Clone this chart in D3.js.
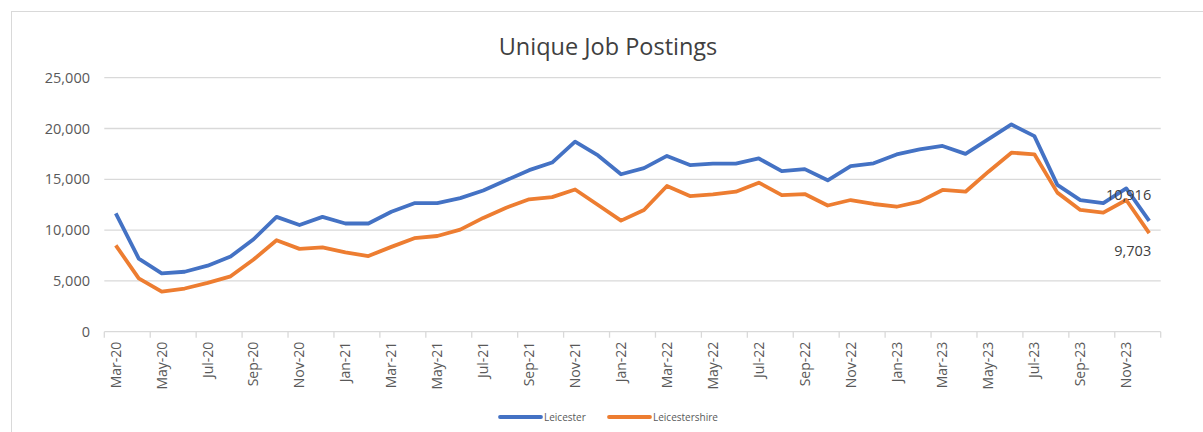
<!DOCTYPE html>
<html>
<head>
<meta charset="utf-8">
<script src="https://cdn.jsdelivr.net/npm/d3@7"></script>
<style>
  body { margin: 0; background: #fff; }
  text { font-family: "Open Sans", "Noto Sans", sans-serif; fill: #595959; }
</style>
</head>
<body>
<svg id="chart" width="1203" height="432"></svg>
<script>
// months, Mar-20 .. Dec-23
var months = ["Mar-20","Apr-20","May-20","Jun-20","Jul-20","Aug-20","Sep-20","Oct-20","Nov-20","Dec-20",
  "Jan-21","Feb-21","Mar-21","Apr-21","May-21","Jun-21","Jul-21","Aug-21","Sep-21","Oct-21","Nov-21","Dec-21",
  "Jan-22","Feb-22","Mar-22","Apr-22","May-22","Jun-22","Jul-22","Aug-22","Sep-22","Oct-22","Nov-22","Dec-22",
  "Jan-23","Feb-23","Mar-23","Apr-23","May-23","Jun-23","Jul-23","Aug-23","Sep-23","Oct-23","Nov-23","Dec-23"];

var leicester = [11650, 7200, 5750, 5900, 6500, 7400, 9100, 11300, 10500, 11300,
  10650, 10650, 11800, 12650, 12650, 13150, 13900, 14900, 15900, 16650, 18700, 17350,
  15500, 16100, 17300, 16400, 16550, 16550, 17050, 15800, 16000, 14900, 16300, 16570,
  17450, 17950, 18280, 17500, 18950, 20400, 19250, 14450, 12950, 12650, 14100, 10916];

var leicestershire = [8500, 5250, 3950, 4250, 4800, 5450, 7100, 9000, 8150, 8300,
  7800, 7450, 8350, 9200, 9420, 10050, 11200, 12200, 13030, 13250, 14000, 12470,
  10930, 11980, 14340, 13350, 13520, 13780, 14670, 13450, 13550, 12420, 12960, 12570,
  12300, 12800, 13950, 13780, 15750, 17620, 17460, 13690, 11980, 11720, 12960, 9703];

var yTicks = [0, 5000, 10000, 15000, 20000, 25000];

var series = [
  {name: "Leicester", values: leicester, color: "#4472C4"},
  {name: "Leicestershire", values: leicestershire, color: "#ED7D31"}
];

var svg = d3.select("#chart");
var plotLeft = 104.3, plotRight = 1160.7, plotTop = 77.7, plotBottom = 331.7;

// chart border
svg.append("rect")
  .attr("x", 11.5).attr("y", 11.5)
  .attr("width", 1250).attr("height", 460)
  .attr("fill", "none")
  .attr("stroke", "#d9d9d9");

svg.append("text")
  .attr("x", 608).attr("y", 55)
  .attr("text-anchor", "middle")
  .style("font-size", "23.5px")
  .style("fill", "#404040")
  .text("Unique Job Postings");

var x = d3.scaleBand().domain(months).range([plotLeft, plotRight]);
var y = d3.scaleLinear().domain([0, 25000]).range([plotBottom, plotTop]);

// gridlines
svg.append("g").selectAll("line")
  .data(yTicks.filter(function(d){ return d > 0; }))
  .enter().append("line")
  .attr("x1", plotLeft).attr("x2", plotRight)
  .attr("y1", function(d){ return y(d); })
  .attr("y2", function(d){ return y(d); })
  .attr("stroke", "#d9d9d9")
  .attr("stroke-width", 1.3);

// y labels
svg.append("g").selectAll("text")
  .data(yTicks)
  .enter().append("text")
  .attr("x", 90)
  .attr("y", function(d){ return y(d); })
  .attr("dy", "0.35em")
  .attr("text-anchor", "end")
  .style("font-size", "14.5px")
  .text(d3.format(","));

// x axis line + tick marks between every 2 categories
svg.append("line")
  .attr("x1", plotLeft).attr("x2", plotRight)
  .attr("y1", plotBottom).attr("y2", plotBottom)
  .attr("stroke", "#d9d9d9")
  .attr("stroke-width", 1.3);

var tickPos = months.filter(function(d, i){ return i % 2 == 0; })
  .map(function(d){ return x(d); }).concat([plotRight]);
svg.append("g").selectAll("line")
  .data(tickPos)
  .enter().append("line")
  .attr("x1", function(d){ return d; })
  .attr("x2", function(d){ return d; })
  .attr("y1", plotBottom).attr("y2", plotBottom + 6)
  .attr("stroke", "#d9d9d9")
  .attr("stroke-width", 1.3);

svg.append("g").selectAll("text")
  .data(months.filter(function(d, i){ return i % 2 == 0; }))
  .enter().append("text")
  .attr("transform", function(d){
    return "translate(" + (x(d) + x.bandwidth() / 2) + "," + (plotBottom + 10) + ") rotate(-90)";
  })
  .attr("dy", "0.35em")
  .attr("text-anchor", "end")
  .style("font-size", "14px")
  .text(function(d){ return d; });

var line = d3.line()
  .x(function(d, i){ return x(months[i]) + x.bandwidth() / 2; })
  .y(function(d){ return y(d); });

svg.append("g").selectAll("path")
  .data(series)
  .enter().append("path")
  .attr("d", function(d){ return line(d.values); })
  .attr("fill", "none")
  .attr("stroke", function(d){ return d.color; })
  .attr("stroke-width", 3.8)
  .attr("stroke-linejoin", "round");

// last-value labels
var last = months.length - 1;
var lx = x(months[last]) + x.bandwidth() / 2;
svg.append("text")
  .attr("x", lx + 2)
  .attr("y", y(leicester[last]) - 26)
  .attr("dy", "0.35em")
  .attr("text-anchor", "end")
  .style("font-size", "14.5px")
  .style("fill", "#404040")
  .text(d3.format(",")(leicester[last]));
svg.append("text")
  .attr("x", lx + 2)
  .attr("y", y(leicestershire[last]) + 18)
  .attr("dy", "0.35em")
  .attr("text-anchor", "end")
  .style("font-size", "14.5px")
  .style("fill", "#404040")
  .text(d3.format(",")(leicestershire[last]));

// legend
var legendX = [500, 609];
var lg = svg.append("g").selectAll("g")
  .data(series)
  .enter().append("g")
  .attr("transform", function(d, i){ return "translate(" + legendX[i] + ",417)"; });
lg.append("line")
  .attr("x1", 0).attr("x2", 41)
  .attr("stroke", function(d){ return d.color; })
  .attr("stroke-width", 3.8)
  .attr("stroke-linecap", "round");
lg.append("text")
  .attr("x", 44)
  .attr("dy", "0.35em")
  .style("font-size", "10px")
  .text(function(d){ return d.name; });
</script>
</body>
</html>
